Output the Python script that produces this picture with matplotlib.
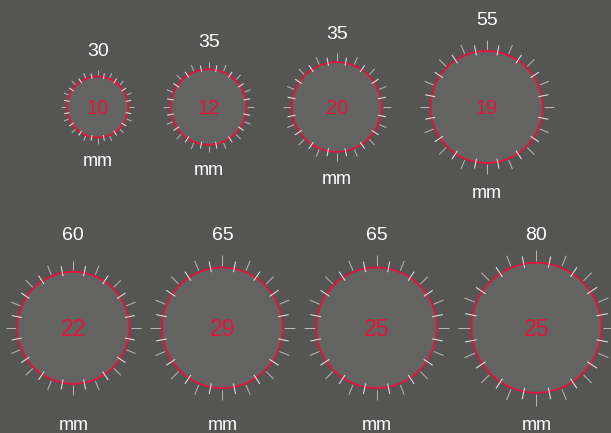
import numpy as np
import matplotlib
matplotlib.use("Agg")
import matplotlib.pyplot as plt
from matplotlib.patches import Circle
from matplotlib.collections import LineCollection

# ---- data ----
top_values = [30, 35, 35, 55, 60, 65, 65, 80]
inner_values = [10, 12, 20, 19, 22, 29, 25, 25]
bubble_r = [30.5, 37.8, 44.8, 56, 56, 60.3, 60.3, 65]
unit_label = "mm"
rows = [[0, 1, 2, 3], [4, 5, 6, 7]]

# ---- style ----
BG = "#555554"
FILL = "#636362"
RED = "#e3143c"
OUTER_TICK = "#b4b4b4"
CROSS_TICK = "#e2e2e2"
FONT = "Liberation Sans"

W, H = 611, 433
fig = plt.figure(figsize=(W / 100, H / 100), dpi=100)
fig.patch.set_facecolor(BG)
ax = fig.add_axes([0, 0, 1, 1])
ax.set_xlim(0, W)
ax.set_ylim(H, 0)
ax.axis("off")
ax.set_facecolor(BG)

row_cy = [107, 327.8]
row_gap = [29, 9.5]
row_cx = [307.5, 310.3]
OUTER = 1.2

n_ticks = 32
angles = np.deg2rad(np.arange(n_ticks) * 360.0 / n_ticks)

for ri, row in enumerate(rows):
    widths = [2 * OUTER * bubble_r[i] for i in row]
    total = sum(widths) + row_gap[ri] * (len(row) - 1)
    x = row_cx[ri] - total / 2
    cy = row_cy[ri]
    for i, w in zip(row, widths):
        cx = x + w / 2
        x += w + row_gap[ri]
        r = bubble_r[i]
        ax.add_patch(Circle((cx, cy), r, facecolor=FILL, edgecolor=RED,
                            linewidth=1.3, zorder=2))
        outer_segs, cross_segs = [], []
        for k, a in enumerate(angles):
            c, s = np.cos(a), -np.sin(a)
            if k % 2 == 0:
                r0, r1 = 1.025 * r, 1.2 * r
                outer_segs.append([(cx + r0 * c, cy + r0 * s), (cx + r1 * c, cy + r1 * s)])
            else:
                r0, r1 = 0.94 * r, 1.12 * r
                cross_segs.append([(cx + r0 * c, cy + r0 * s), (cx + r1 * c, cy + r1 * s)])
        ax.add_collection(LineCollection(outer_segs, colors=OUTER_TICK, linewidths=0.75, zorder=1))
        ax.add_collection(LineCollection(cross_segs, colors=CROSS_TICK, linewidths=0.75, zorder=3))

        # inner value
        fs_in = 14.4 if ri == 0 else 16.6
        h_in = fs_in * 100 / 72 * 0.716
        ax.text(cx, cy + h_in / 2, str(inner_values[i]), color=RED, fontsize=fs_in,
                family=FONT, ha="center", va="baseline", zorder=4)

        # top value
        if ri == 0:
            ty = cy - (OUTER * r + 21.4)
            my = cy + 1.25 * r + 16.5
        else:
            ty = 233
            my = 425
        fs_top = 14
        h_top = fs_top * 100 / 72 * 0.716
        ax.text(cx, ty + h_top / 2, str(top_values[i]), color="white", fontsize=fs_top,
                family=FONT, ha="center", va="baseline", zorder=4)
        fs_mm = 13
        h_mm = fs_mm * 100 / 72 * 0.519
        ax.text(cx, my + h_mm / 2, unit_label, color="white", fontsize=fs_mm,
                family=FONT, ha="center", va="baseline", zorder=4)

fig.savefig("out.png", dpi=100, facecolor=BG)
